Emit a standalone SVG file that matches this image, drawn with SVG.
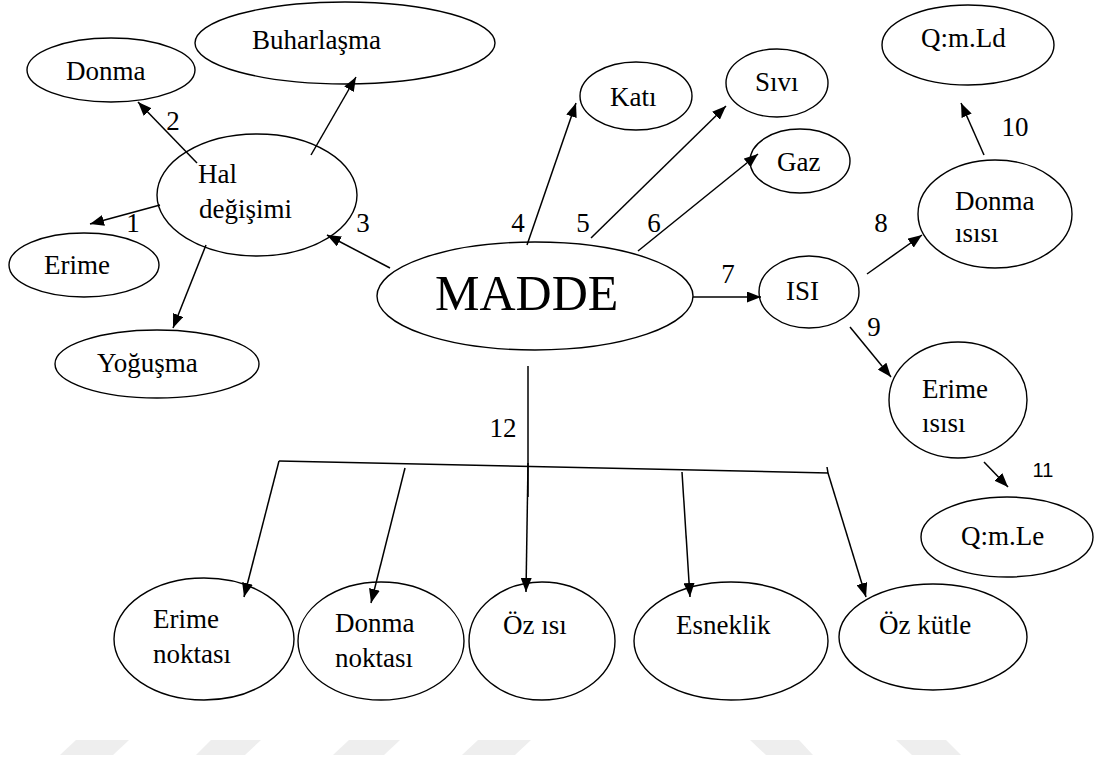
<svg xmlns="http://www.w3.org/2000/svg" width="1099" height="765" viewBox="0 0 1099 765">
<style>
.n{fill:#fff;stroke:#000;stroke-width:1.4}
.t{font-family:"Liberation Serif","Times New Roman",serif;font-size:27px;fill:#000}
.s{font-family:"Liberation Sans",Arial,sans-serif;font-size:20px;fill:#000}
.c{stroke:#000;stroke-width:1.5;fill:none}
.a{marker-end:url(#ah)}
.w{fill:#eeeeee}
</style>
<defs>
<marker id="ah" viewBox="0 0 14 11" refX="14" refY="5.5" markerWidth="14" markerHeight="11" markerUnits="userSpaceOnUse" orient="auto">
<path d="M0,0 L14,5.5 L0,11 z" fill="#000"/>
</marker>
</defs>
<rect width="1099" height="765" fill="#fff"/>
<g id="watermark">
<polygon class="w" points="76,740 129,740 113,755 60,755"/>
<polygon class="w" points="211,740 261,740 245,755 196,755"/>
<polygon class="w" points="349,740 400,740 384,755 333,755"/>
<polygon class="w" points="478,740 531,740 515,755 462,755"/>
<polygon class="w" points="750,740 799,740 813,755 766,755"/>
<polygon class="w" points="896,740 946,740 961,755 912,755"/>
</g>
<g id="buharlasma"><ellipse class="n" cx="345" cy="43" rx="150" ry="41"/><text class="t" x="252" y="49">Buharlaşma</text></g>
<g id="donma1"><ellipse class="n" cx="111" cy="70" rx="84" ry="32"/><text class="t" x="66" y="80">Donma</text></g>
<g id="hal"><ellipse class="n" cx="257" cy="195" rx="100" ry="61"/><text class="t" x="198" y="183">Hal</text><text class="t" x="199" y="218">değişimi</text></g>
<g id="erime1"><ellipse class="n" cx="84" cy="265" rx="75" ry="32"/><text class="t" x="44" y="274">Erime</text></g>
<g id="yogusma"><ellipse class="n" cx="157" cy="364" rx="102" ry="34"/><text class="t" x="97" y="372">Yoğuşma</text></g>
<g id="madde"><ellipse class="n" cx="535" cy="296" rx="158" ry="54"/><text class="t" x="435" y="310" style="font-size:50px">MADDE</text></g>
<g id="kati"><ellipse class="n" cx="636" cy="96" rx="56" ry="34"/><text class="t" x="610" y="106">Katı</text></g>
<g id="sivi"><ellipse class="n" cx="777" cy="83" rx="51" ry="34"/><text class="t" x="755" y="91">Sıvı</text></g>
<g id="gaz"><ellipse class="n" cx="800" cy="161" rx="50" ry="32"/><text class="t" x="777" y="171">Gaz</text></g>
<g id="isi"><ellipse class="n" cx="809" cy="292" rx="50" ry="36"/><text class="t" x="786" y="300">ISI</text></g>
<g id="qmld"><ellipse class="n" cx="968" cy="45" rx="86" ry="40"/><text class="t" x="921" y="47">Q:m.Ld</text></g>
<g id="donmaisisi"><ellipse class="n" cx="995" cy="214" rx="77" ry="54"/><text class="t" x="955" y="210">Donma</text><text class="t" x="955" y="242">ısısı</text></g>
<g id="erimeisisi"><ellipse class="n" cx="958" cy="400" rx="69" ry="58"/><text class="t" x="922" y="398">Erime</text><text class="t" x="922" y="432">ısısı</text></g>
<g id="qmle"><ellipse class="n" cx="1007" cy="537" rx="86" ry="40"/><text class="t" x="961" y="545">Q:m.Le</text></g>
<g id="erimenoktasi"><ellipse class="n" cx="204" cy="639" rx="90" ry="61"/><text class="t" x="153" y="628">Erime</text><text class="t" x="153" y="663">noktası</text></g>
<g id="donmanoktasi"><ellipse class="n" cx="381" cy="641" rx="83" ry="59"/><text class="t" x="335" y="632">Donma</text><text class="t" x="335" y="667">noktası</text></g>
<g id="ozisi"><ellipse class="n" cx="542" cy="641" rx="73" ry="59"/><text class="t" x="503" y="634">Öz ısı</text></g>
<g id="esneklik"><ellipse class="n" cx="731" cy="641" rx="97" ry="59"/><text class="t" x="676" y="634">Esneklik</text></g>
<g id="ozkutle"><ellipse class="n" cx="933" cy="637" rx="94" ry="53"/><text class="t" x="879" y="634">Öz kütle</text></g>
<g id="connectors">
<line class="c a" x1="160" y1="205" x2="90" y2="224"/>
<line class="c a" x1="197" y1="163" x2="138" y2="102"/>
<line class="c a" x1="311" y1="155" x2="356" y2="77"/>
<line class="c a" x1="390" y1="268" x2="327" y2="235"/>
<line class="c a" x1="206" y1="245" x2="173" y2="328"/>
<line class="c a" x1="527" y1="245" x2="576" y2="103"/>
<line class="c a" x1="591" y1="238" x2="726" y2="106"/>
<line class="c a" x1="638" y1="251" x2="758" y2="154"/>
<line class="c a" x1="693" y1="297" x2="761" y2="297"/>
<line class="c a" x1="867" y1="274" x2="922" y2="235"/>
<line class="c a" x1="850" y1="327" x2="891" y2="377"/>
<line class="c a" x1="984" y1="155" x2="961" y2="103"/>
<line class="c a" x1="984" y1="462" x2="1008" y2="487"/>
<line class="c" x1="528" y1="366" x2="528" y2="497"/>
<polyline class="c" points="279,461 828,473 827,467"/>
<line class="c a" x1="279" y1="461" x2="244" y2="597"/>
<line class="c a" x1="405" y1="468" x2="371" y2="603"/>
<line class="c a" x1="528" y1="463" x2="526" y2="592"/>
<line class="c a" x1="682" y1="472" x2="690" y2="597"/>
<line class="c a" x1="828" y1="473" x2="866" y2="597"/>
</g>
<g id="labels">
<text class="t" x="133" y="232" text-anchor="middle">1</text>
<text class="t" x="173" y="130" text-anchor="middle">2</text>
<text class="t" x="363" y="232" text-anchor="middle">3</text>
<text class="t" x="518" y="232" text-anchor="middle">4</text>
<text class="t" x="583" y="232" text-anchor="middle">5</text>
<text class="t" x="654" y="232" text-anchor="middle">6</text>
<text class="t" x="728" y="283" text-anchor="middle">7</text>
<text class="t" x="881" y="232" text-anchor="middle">8</text>
<text class="t" x="874" y="336" text-anchor="middle">9</text>
<text class="t" x="1015" y="136" text-anchor="middle">10</text>
<text class="s" x="1043" y="477" text-anchor="middle">11</text>
<text class="t" x="503" y="437" text-anchor="middle">12</text>
</g>
</svg>
